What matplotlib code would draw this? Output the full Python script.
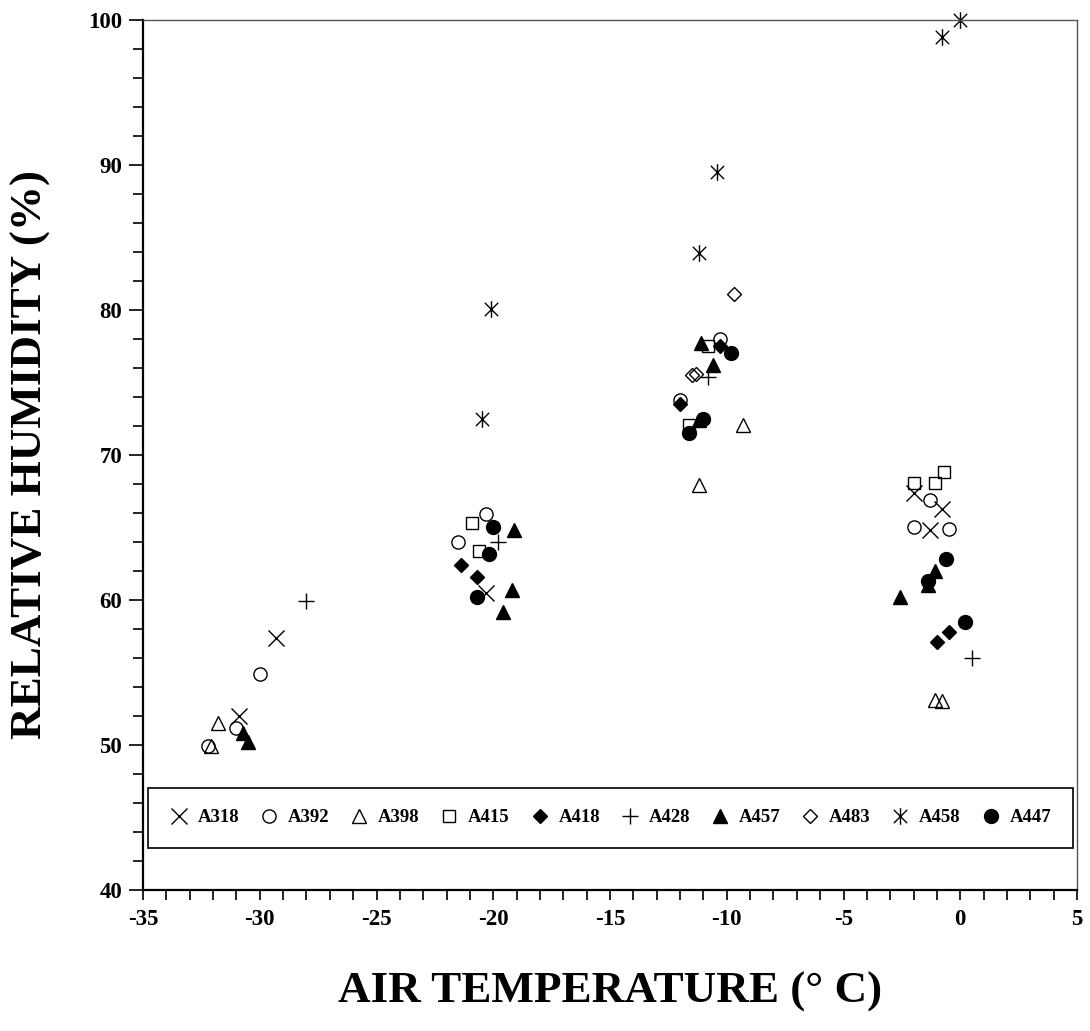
import matplotlib
matplotlib.use('Agg')
import matplotlib.pyplot as plt
from matplotlib.path import Path
from matplotlib.ticker import MultipleLocator
import numpy as np

plt.rcParams['font.family'] = ['Liberation Serif', 'DejaVu Serif']
plt.rcParams['font.weight'] = 'bold'
plt.rcParams['axes.unicode_minus'] = False

# data: air temperature (C), relative humidity (%)
a318_x = [-29.3, -30.9, -20.3, -2.0, -0.8, -1.3]
a318_y = [57.4, 52.0, 60.5, 67.4, 66.3, 64.8]
a392_x = [-30.0, -31.0, -32.2, -20.3, -21.5, -12.0, -10.3, -1.3, -2.0, -0.5]
a392_y = [54.9, 51.2, 49.9, 65.9, 64.0, 73.8, 78.0, 66.9, 65.0, 64.9]
a398_x = [-31.8, -32.1, -32.0, -9.3, -11.2, -1.1, -0.8]
a398_y = [51.5, 49.9, 46.5, 72.1, 67.9, 53.1, 53.0]
a415_x = [-20.9, -20.6, -10.8, -11.6, -0.7, -2.0, -1.1]
a415_y = [65.3, 63.4, 77.5, 72.1, 68.8, 68.1, 68.1]
a418_x = [-21.4, -20.7, -10.3, -12.0, -0.5, -1.0]
a418_y = [62.4, 61.6, 77.5, 73.5, 57.8, 57.1]
a428_x = [-28.0, -19.8, -10.8, 0.5]
a428_y = [59.9, 64.0, 75.4, 56.0]
a457_x = [-30.7, -30.5, -19.1, -19.2, -19.6, -11.1, -10.6, -11.2, -1.1, -1.4, -2.6]
a457_y = [50.8, 50.2, 64.8, 60.7, 59.2, 77.7, 76.2, 72.4, 62.0, 61.0, 60.2]
a483_x = [-9.7, -11.5, -11.3]
a483_y = [81.1, 75.5, 75.6]
a458_x = [-20.1, -20.5, -10.4, -11.2, 0.0, -0.8]
a458_y = [80.1, 72.5, 89.5, 83.9, 100.0, 98.8]
a447_x = [-20.0, -20.2, -20.7, -9.8, -11.0, -11.6, -0.6, -1.4, 0.2]
a447_y = [65.0, 63.2, 60.2, 77.0, 72.5, 71.5, 62.8, 61.3, 58.5]

# excel style star: an x with a vertical bar
star = Path([(0, -1), (0, 1), (-0.8, -0.8), (0.8, 0.8), (-0.8, 0.8), (0.8, -0.8)],
            [Path.MOVETO, Path.LINETO, Path.MOVETO, Path.LINETO, Path.MOVETO, Path.LINETO])

series = [
    ('A318', a318_x, a318_y, dict(marker='x', ms=11, mew=1.0)),
    ('A392', a392_x, a392_y, dict(marker='o', ms=9.5, mfc='none', mew=1.0)),
    ('A398', a398_x, a398_y, dict(marker='^', ms=10, mfc='none', mew=1.0)),
    ('A415', a415_x, a415_y, dict(marker='s', ms=9, mfc='none', mew=1.0)),
    ('A418', a418_x, a418_y, dict(marker='D', ms=7, mew=1.0)),
    ('A428', a428_x, a428_y, dict(marker='+', ms=12, mew=1.0)),
    ('A457', a457_x, a457_y, dict(marker='^', ms=10, mew=1.0)),
    ('A483', a483_x, a483_y, dict(marker='D', ms=7, mfc='none', mew=1.0)),
    ('A458', a458_x, a458_y, dict(marker=star, ms=12, mew=1.0)),
    ('A447', a447_x, a447_y, dict(marker='o', ms=10, mew=1.0)),
]

fig = plt.figure(figsize=(10.9, 10.31), dpi=100, facecolor='white')
ax = fig.add_axes([0.1312, 0.1368, 0.8569, 0.8438])

for name, xs, ys, style in series:
    ax.plot(xs, ys, ls='none', color='black', label=name, clip_on=False, **style)

ax.set_xlim(-35, 5)
ax.set_ylim(40, 100)
ax.xaxis.set_major_locator(MultipleLocator(5))
ax.xaxis.set_minor_locator(MultipleLocator(1))
ax.yaxis.set_major_locator(MultipleLocator(10))
ax.yaxis.set_minor_locator(MultipleLocator(2))
ax.tick_params(axis='x', which='both', direction='out', length=7, width=1.2, labelsize=16.5, pad=7)
ax.tick_params(axis='y', which='major', direction='out', length=10, width=1.2, labelsize=16.5, pad=5)
ax.tick_params(axis='y', which='minor', direction='out', length=7, width=1.2)
for lab in ax.get_xticklabels() + ax.get_yticklabels():
    lab.set_fontweight('bold')

ax.spines['left'].set_linewidth(1.6)
ax.spines['bottom'].set_linewidth(1.6)
for s in ('top', 'right'):
    ax.spines[s].set_linewidth(1.0)
    ax.spines[s].set_color('#555555')

ax.set_xlabel('AIR TEMPERATURE (° C)', fontsize=32.5, fontweight='bold', labelpad=30)
ax.set_ylabel('RELATIVE HUMIDITY (%)', fontsize=32.5, fontweight='bold', labelpad=27)

leg = ax.legend(loc='lower left', bbox_to_anchor=(0.0054, 0.0483, 0.990, 0.069),
                mode='expand', borderaxespad=0, ncol=10,
                handlelength=1.0, handletextpad=0.5, columnspacing=1.0,
                borderpad=1.15, fancybox=False, framealpha=1, edgecolor='black',
                prop={'weight': 'bold', 'size': 13.5})
leg.get_frame().set_linewidth(1.2)
leg.set_zorder(10)

plt.savefig('out.png', dpi=100, facecolor='white')
